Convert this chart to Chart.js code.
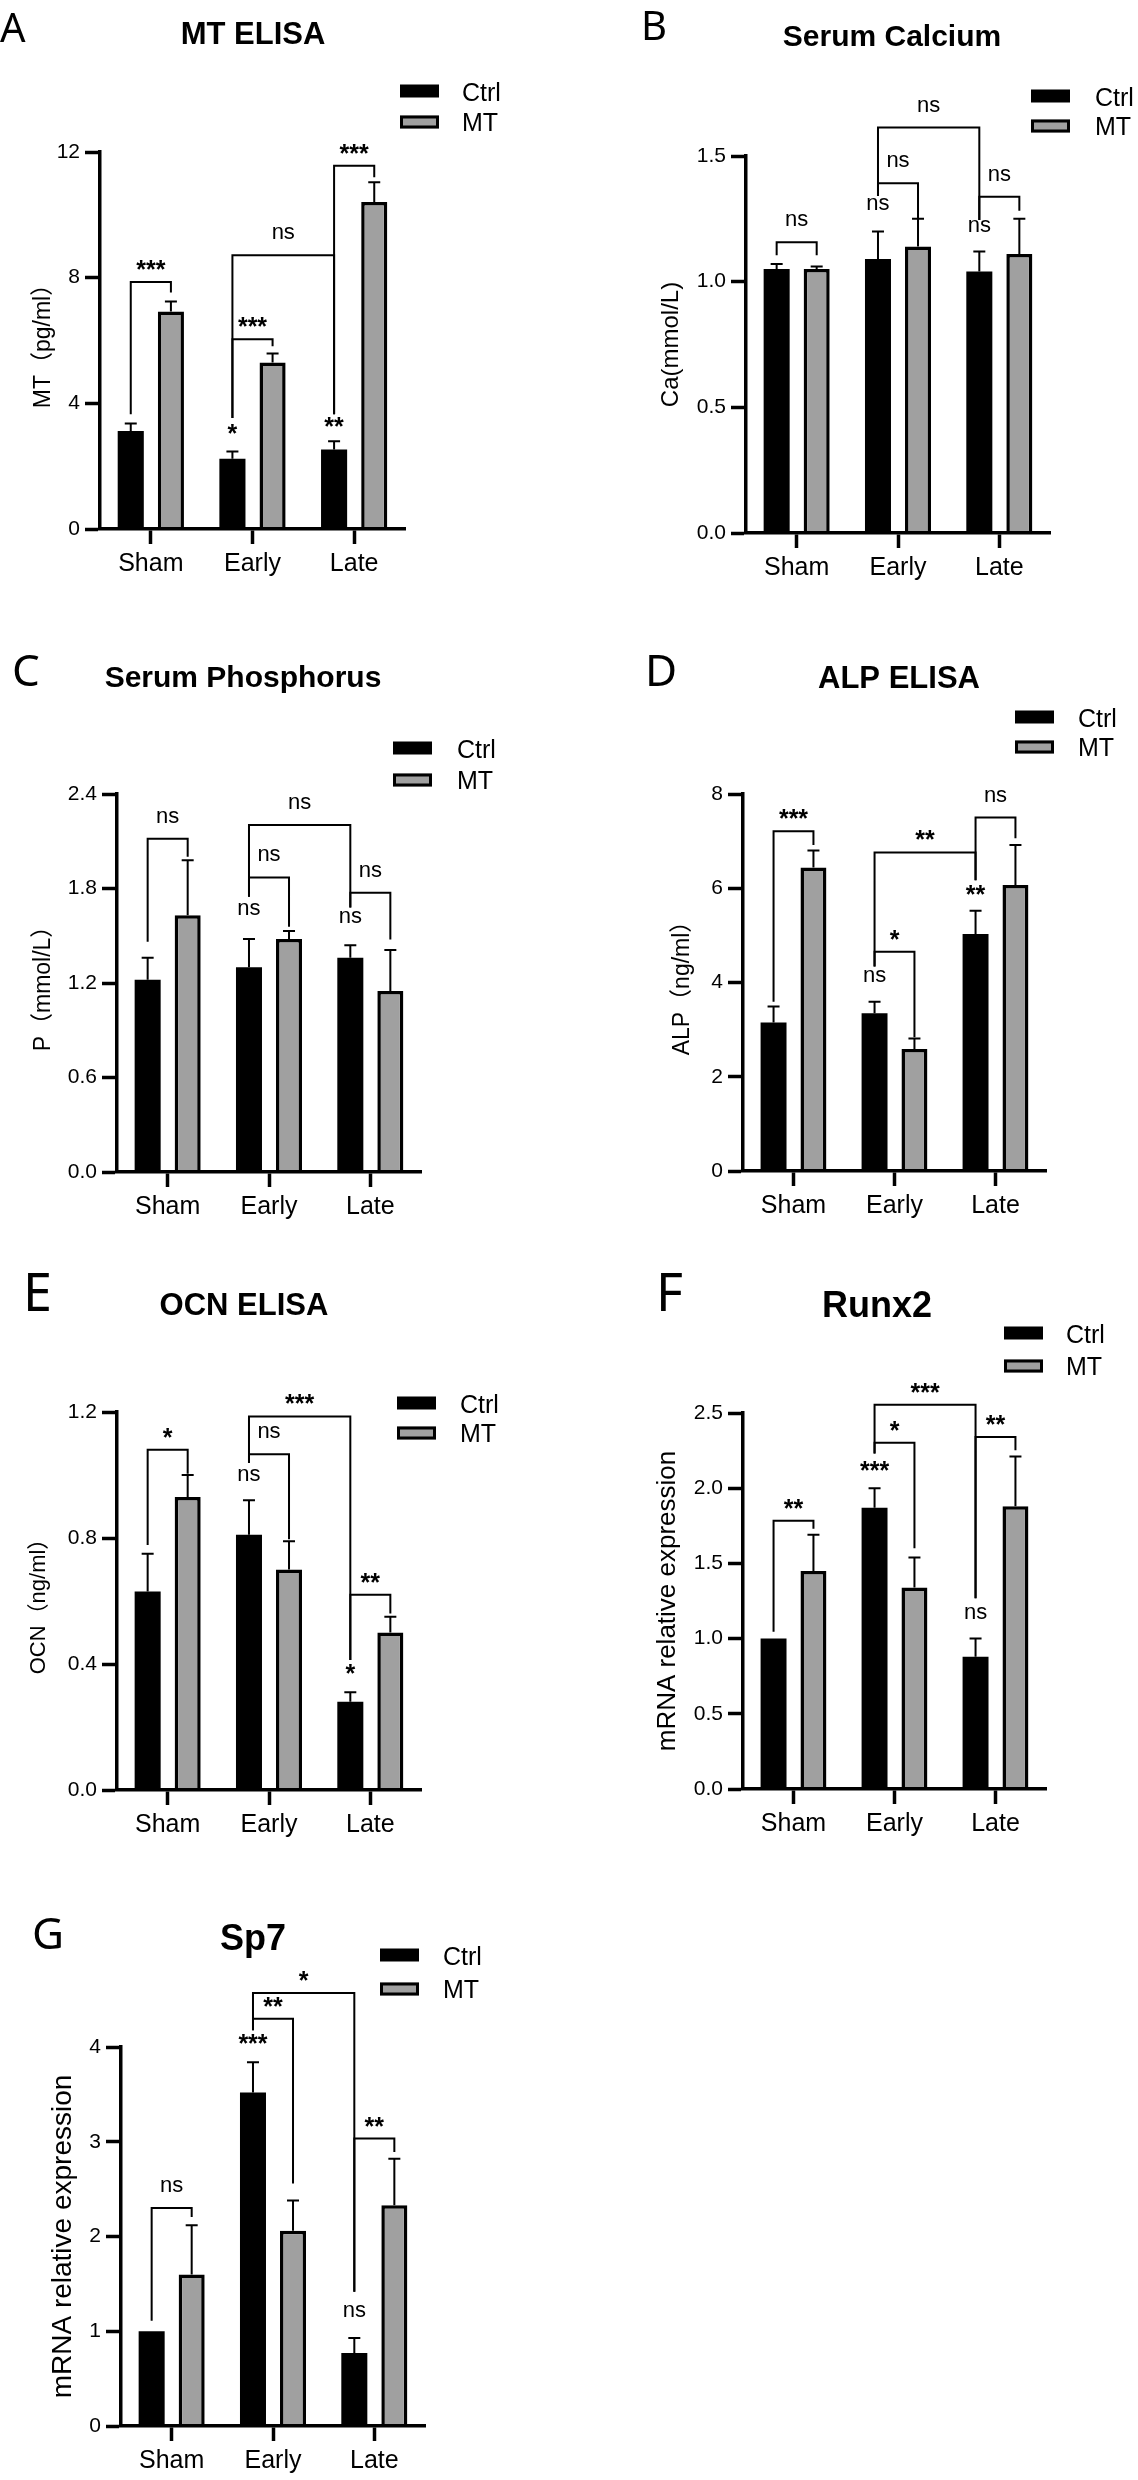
<!DOCTYPE html>
<html>
<head>
<meta charset="utf-8">
<script src="https://cdn.jsdelivr.net/npm/chart.js@4.4.1/dist/chart.umd.min.js"></script>
<style>
  body { margin: 0; background: #fff; }
  #fig { position: relative; width: 1138px; height: 2480px; background: #fff; }
  #fig canvas { position: absolute; }
</style>
</head>
<body>
<div id="fig"></div>
<script>
// categories and series shared by every panel
var groups = ['Sham', 'Early', 'Late'];
var seriesNames = ['Ctrl', 'MT'];

// A: MT ELISA (pg/ml)
var mtCtrl = [3.12, 2.24, 2.53];
var mtCtrlErr = [0.24, 0.23, 0.26];
var mtTreated = [6.92, 5.30, 10.41];
var mtTreatedErr = [0.32, 0.29, 0.63];
var mtTicks = ['0', '4', '8', '12'];
// brackets: [group1, series1, group2, series2, top, leg1 end, leg2 end, label]
var mtBrackets = [
  [0, 0, 0, 1, 7.86, 3.65, 7.53, '***'],
  [1, 0, 1, 1, 6.04, 3.53, 5.82, '***'],
  [1, 0, 2, 0, 8.71, 3.53, 3.65, 'ns'],
  [2, 0, 2, 1, 11.56, 3.65, 11.2, '***']
];
// marks over a single bar: [group, series, value, label]
var mtMarks = [[1, 0, 3.18, '*'], [2, 0, 3.41, '**']];

// B: serum calcium (mmol/L)
var caCtrl = [1.05, 1.09, 1.04];
var caCtrlErr = [0.02, 0.11, 0.08];
var caTreated = [1.05, 1.14, 1.11];
var caTreatedErr = [0.01, 0.11, 0.14];
var caTicks = ['0.0', '0.5', '1.0', '1.5'];
var caBrackets = [
  [0, 0, 0, 1, 1.157, 1.105, 1.105, 'ns'],
  [1, 0, 1, 1, 1.392, 1.341, 1.252, 'ns'],
  [1, 0, 2, 0, 1.613, 1.341, 1.245, 'ns'],
  [2, 0, 2, 1, 1.338, 1.245, 1.282, 'ns']
];
var caMarks = [[1, 0, 1.308, 'ns'], [2, 0, 1.22, 'ns']];

// C: serum phosphorus (mmol/L)
var pCtrl = [1.22, 1.30, 1.36];
var pCtrlErr = [0.14, 0.18, 0.08];
var pTreated = [1.63, 1.48, 1.15];
var pTreatedErr = [0.35, 0.05, 0.26];
var pTicks = ['0.0', '0.6', '1.2', '1.8', '2.4'];
var pBrackets = [
  [0, 0, 0, 1, 2.116, 1.462, 2.002, 'ns'],
  [1, 0, 1, 1, 1.87, 1.748, 1.557, 'ns'],
  [1, 0, 2, 0, 2.203, 1.748, 1.68, 'ns'],
  [2, 0, 2, 1, 1.773, 1.68, 1.476, 'ns']
];
var pMarks = [[1, 0, 1.667, 'ns'], [2, 0, 1.616, 'ns']];

// D: ALP ELISA (ng/ml)
var alpCtrl = [3.15, 3.35, 5.03];
var alpCtrlErr = [0.34, 0.24, 0.49];
var alpTreated = [6.44, 2.59, 6.07];
var alpTreatedErr = [0.36, 0.22, 0.85];
var alpTicks = ['0', '2', '4', '6', '8'];
var alpBrackets = [
  [0, 0, 0, 1, 7.21, 3.59, 6.92, '***'],
  [1, 0, 1, 1, 4.65, 4.34, 2.84, '*'],
  [1, 0, 2, 0, 6.76, 4.34, 6.17, '**'],
  [2, 0, 2, 1, 7.50, 6.17, 7.06, 'ns']
];
var alpMarks = [[1, 0, 4.14, 'ns'], [2, 0, 5.96, '**']];

// E: OCN ELISA (ng/ml)
var ocnCtrl = [0.63, 0.81, 0.28];
var ocnCtrlErr = [0.12, 0.11, 0.03];
var ocnTreated = [0.93, 0.70, 0.50];
var ocnTreatedErr = [0.07, 0.09, 0.05];
var ocnTicks = ['0.0', '0.4', '0.8', '1.2'];
var ocnBrackets = [
  [0, 0, 0, 1, 1.08, 0.778, 1.004, '*'],
  [1, 0, 1, 1, 1.066, 1.038, 0.796, 'ns'],
  [1, 0, 2, 0, 1.186, 1.038, 0.413, '***'],
  [2, 0, 2, 1, 0.62, 0.413, 0.56, '**']
];
var ocnMarks = [[1, 0, 1.001, 'ns'], [2, 0, 0.383, '*']];

// F: Runx2 mRNA
var runxCtrl = [1.00, 1.87, 0.88];
var runxCtrlErr = [0, 0.13, 0.12];
var runxTreated = [1.45, 1.34, 1.88];
var runxTreatedErr = [0.24, 0.20, 0.33];
var runxTicks = ['0.0', '0.5', '1.0', '1.5', '2.0', '2.5'];
var runxBrackets = [
  [0, 0, 0, 1, 1.783, 1.046, 1.73, '**'],
  [1, 0, 1, 1, 2.303, 2.23, 1.60, '*'],
  [1, 0, 2, 0, 2.555, 2.23, 1.268, '***'],
  [2, 0, 2, 1, 2.341, 1.268, 2.252, '**']
];
var runxMarks = [[1, 0, 2.148, '***'], [2, 0, 1.168, 'ns']];

// G: Sp7 mRNA
var sp7Ctrl = [1.00, 3.52, 0.77];
var sp7CtrlErr = [0, 0.32, 0.16];
var sp7Treated = [1.60, 2.06, 2.33];
var sp7TreatedErr = [0.52, 0.32, 0.49];
var sp7Ticks = ['0', '1', '2', '3', '4'];
var sp7Brackets = [
  [0, 0, 0, 1, 2.302, 1.111, 2.207, 'ns'],
  [1, 0, 1, 1, 4.299, 4.176, 2.559, '**'],
  [1, 0, 2, 0, 4.569, 4.176, 1.417, '*'],
  [2, 0, 2, 1, 3.033, 1.417, 2.893, '**']
];
var sp7Marks = [[1, 0, 4.081, '***'], [2, 0, 1.216, 'ns']];

var FONT = "'Liberation Sans', Arial, 'Noto Sans CJK SC', sans-serif";
var LETTER_FONT = "'Noto Sans', 'DejaVu Sans', sans-serif";

// page layout: box = canvas [x, y, w, h], plot = axes [left, top, right, bottom]
// letter/title = [x, baseline, size], legend = [boxX, row1, row2, textX], yLabel = [x, size]
var panels = [
  { letter: 'A', title: 'MT ELISA', yTitle: 'MT（pg/ml）', ctrl: mtCtrl, ctrlErr: mtCtrlErr, treated: mtTreated, treatedErr: mtTreatedErr, ticks: mtTicks, brackets: mtBrackets, marks: mtMarks,
    box: [0, 0, 569, 580], plot: [100, 152, 405, 529], letterPos: [0, 42, 40], titlePos: [253, 44, 31], legend: [400, 91, 122, 462], yLabel: [44, 23] },
  { letter: 'B', title: 'Serum Calcium', yTitle: 'Ca(mmol/L)', ctrl: caCtrl, ctrlErr: caCtrlErr, treated: caTreated, treatedErr: caTreatedErr, ticks: caTicks, brackets: caBrackets, marks: caMarks,
    box: [569, 0, 569, 580], plot: [746, 156, 1050, 533], letterPos: [641, 40, 40], titlePos: [892, 46, 30], legend: [1031, 96, 126, 1095], yLabel: [671, 24] },
  { letter: 'C', title: 'Serum Phosphorus', yTitle: 'P（mmol/L）', ctrl: pCtrl, ctrlErr: pCtrlErr, treated: pTreated, treatedErr: pTreatedErr, ticks: pTicks, brackets: pBrackets, marks: pMarks,
    box: [0, 580, 569, 650], plot: [117, 794, 421, 1172], letterPos: [12, 686, 44], titlePos: [243, 687, 30], legend: [393, 748, 780, 457], yLabel: [44, 23] },
  { letter: 'D', title: 'ALP ELISA', yTitle: 'ALP（ng/ml）', ctrl: alpCtrl, ctrlErr: alpCtrlErr, treated: alpTreated, treatedErr: alpTreatedErr, ticks: alpTicks, brackets: alpBrackets, marks: alpMarks,
    box: [569, 580, 569, 650], plot: [743, 794, 1046, 1171], letterPos: [645, 686, 44], titlePos: [899, 688, 31], legend: [1015, 717, 747, 1078], yLabel: [683, 23] },
  { letter: 'E', title: 'OCN ELISA', yTitle: 'OCN（ng/ml）', ctrl: ocnCtrl, ctrlErr: ocnCtrlErr, treated: ocnTreated, treatedErr: ocnTreatedErr, ticks: ocnTicks, brackets: ocnBrackets, marks: ocnMarks,
    box: [0, 1230, 569, 640], plot: [117, 1412, 421, 1790], letterPos: [23, 1311, 52], titlePos: [244, 1315, 31], legend: [397, 1403, 1433, 460], yLabel: [39, 22] },
  { letter: 'F', title: 'Runx2', yTitle: 'mRNA relative expression', ctrl: runxCtrl, ctrlErr: runxCtrlErr, treated: runxTreated, treatedErr: runxTreatedErr, ticks: runxTicks, brackets: runxBrackets, marks: runxMarks,
    box: [569, 1230, 569, 640], plot: [743, 1413, 1046, 1789], letterPos: [656, 1311, 52], titlePos: [877, 1317, 36], legend: [1004, 1333, 1366, 1066], yLabel: [668, 26] },
  { letter: 'G', title: 'Sp7', yTitle: 'mRNA relative expression', ctrl: sp7Ctrl, ctrlErr: sp7CtrlErr, treated: sp7Treated, treatedErr: sp7TreatedErr, ticks: sp7Ticks, brackets: sp7Brackets, marks: sp7Marks,
    box: [0, 1870, 569, 610], plot: [121, 2047, 425, 2426], letterPos: [32, 1949, 44], titlePos: [253, 1950, 36], legend: [380, 1955, 1989, 443], yLabel: [63, 28] }
];

// draw text so that its glyphs are centred on yc
function centeredText(ctx, text, x, yc) {
  var m = ctx.measureText(text);
  ctx.fillText(text, x, yc + (m.actualBoundingBoxAscent - m.actualBoundingBoxDescent) / 2);
}

function labelFont(text) {
  return text.indexOf('*') >= 0 ? 'bold 25px ' + FONT : '22px ' + FONT;
}

// error bars, significance brackets, legend, titles
var decorPlugin = {
  id: 'decor',
  afterDraw: function (chart) {
    var p = chart.options.plugins.decor.panel;
    var ctx = chart.ctx;
    var y = chart.scales.y;
    var ox = p.box[0], oy = p.box[1];

    function barX(g, s) {
      return chart.getDatasetMeta(s).data[g].x;
    }

    ctx.save();
    ctx.strokeStyle = '#000';
    ctx.fillStyle = '#000';

    // error bars (upper only)
    ctx.lineWidth = 2;
    chart.data.datasets.forEach(function (ds, di) {
      chart.getDatasetMeta(di).data.forEach(function (bar, i) {
        var e = ds.errors[i];
        if (!e) return;
        var top = y.getPixelForValue(ds.data[i] + e);
        ctx.beginPath();
        ctx.moveTo(bar.x, bar.y);
        ctx.lineTo(bar.x, top);
        ctx.moveTo(bar.x - 6, top);
        ctx.lineTo(bar.x + 6, top);
        ctx.stroke();
      });
    });

    // brackets
    ctx.textAlign = 'center';
    p.brackets.forEach(function (b) {
      var x1 = barX(b[0], b[1]), x2 = barX(b[2], b[3]);
      var yt = y.getPixelForValue(b[4]);
      ctx.lineWidth = 2;
      ctx.beginPath();
      ctx.moveTo(x1, y.getPixelForValue(b[5]));
      ctx.lineTo(x1, yt);
      ctx.lineTo(x2, yt);
      ctx.lineTo(x2, y.getPixelForValue(b[6]));
      ctx.stroke();
      ctx.font = labelFont(b[7]);
      centeredText(ctx, b[7], (x1 + x2) / 2, yt - (b[7] === 'ns' ? 22 : 17));
    });

    // marks over single bars
    p.marks.forEach(function (m) {
      ctx.font = labelFont(m[3]);
      centeredText(ctx, m[3], barX(m[0], m[1]), y.getPixelForValue(m[2]));
    });

    // panel letter
    ctx.textAlign = 'left';
    ctx.font = p.letterPos[2] + 'px ' + LETTER_FONT;
    ctx.fillText(p.letter, p.letterPos[0] - ox, p.letterPos[1] - oy);

    // title
    ctx.textAlign = 'center';
    ctx.font = 'bold ' + p.titlePos[2] + 'px ' + FONT;
    ctx.fillText(p.title, p.titlePos[0] - ox, p.titlePos[1] - oy);

    // legend
    var lg = p.legend;
    var bx = lg[0] - ox;
    ctx.fillStyle = chart.data.datasets[0].backgroundColor;
    ctx.fillRect(bx, lg[1] - oy - 6.5, 39, 13);
    ctx.fillStyle = chart.data.datasets[1].backgroundColor;
    ctx.fillRect(bx, lg[2] - oy - 6.5, 39, 13);
    ctx.lineWidth = 3;
    ctx.strokeRect(bx + 1.5, lg[2] - oy - 5, 36, 10);
    ctx.fillStyle = '#000';
    ctx.textAlign = 'left';
    ctx.font = '25px ' + FONT;
    centeredText(ctx, chart.data.datasets[0].label, lg[3] - ox, lg[1] - oy);
    centeredText(ctx, chart.data.datasets[1].label, lg[3] - ox, lg[2] - oy);

    // y axis title
    ctx.translate(p.yLabel[0] - ox, (p.plot[1] + p.plot[3]) / 2 - oy);
    ctx.rotate(-Math.PI / 2);
    ctx.textAlign = 'center';
    ctx.textBaseline = 'middle';
    ctx.font = p.yLabel[1] + 'px ' + FONT;
    ctx.fillText(p.yTitle, 0, 0);
    ctx.restore();
  }
};

function makePanel(p) {
  var fig = document.getElementById('fig');
  var canvas = document.createElement('canvas');
  canvas.width = p.box[2];
  canvas.height = p.box[3];
  canvas.style.left = p.box[0] + 'px';
  canvas.style.top = p.box[1] + 'px';
  fig.appendChild(canvas);

  var yWidth = p.plot[0] - p.box[0];
  var xHeight = p.box[1] + p.box[3] - p.plot[3];
  var tickValues = p.ticks.map(parseFloat);

  var axisGrid = {
    drawOnChartArea: false,
    drawTicks: true,
    tickLength: 15,
    tickWidth: 3.5,
    tickColor: '#000'
  };
  var axisBorder = { display: true, color: '#000', width: 3.5, z: 1 };

  new Chart(canvas.getContext('2d'), {
    type: 'bar',
    data: {
      labels: groups,
      datasets: [
        { label: seriesNames[0], data: p.ctrl, errors: p.ctrlErr, backgroundColor: '#000000', borderColor: '#000', borderWidth: 0 },
        { label: seriesNames[1], data: p.treated, errors: p.treatedErr, backgroundColor: '#a0a0a0', borderColor: '#000', borderWidth: 3.5 }
      ]
    },
    options: {
      responsive: false,
      animation: false,
      devicePixelRatio: 1,
      events: [],
      categoryPercentage: 0.79,
      barPercentage: 0.65,
      layout: {
        padding: { left: 0, top: p.plot[1] - p.box[1], right: p.box[0] + p.box[2] - p.plot[2], bottom: 0 }
      },
      plugins: {
        legend: { display: false },
        tooltip: { enabled: false },
        decor: { panel: p }
      },
      scales: {
        x: {
          offset: true,
          grid: Object.assign({ offset: false }, axisGrid),
          border: axisBorder,
          ticks: { color: '#000', font: { size: 25, family: FONT }, padding: 5, maxRotation: 0, autoSkip: false },
          afterFit: function (s) { s.height = xHeight; }
        },
        y: {
          min: tickValues[0],
          max: tickValues[tickValues.length - 1],
          grid: axisGrid,
          border: axisBorder,
          afterBuildTicks: function (s) {
            s.ticks = tickValues.map(function (v) { return { value: v }; });
          },
          ticks: {
            color: '#000',
            font: { size: 21, family: FONT },
            padding: 5,
            callback: function (v, i) { return p.ticks[i]; }
          },
          afterFit: function (s) { s.width = yWidth; }
        }
      }
    },
    plugins: [decorPlugin]
  });
}

panels.forEach(makePanel);
</script>
</body>
</html>
